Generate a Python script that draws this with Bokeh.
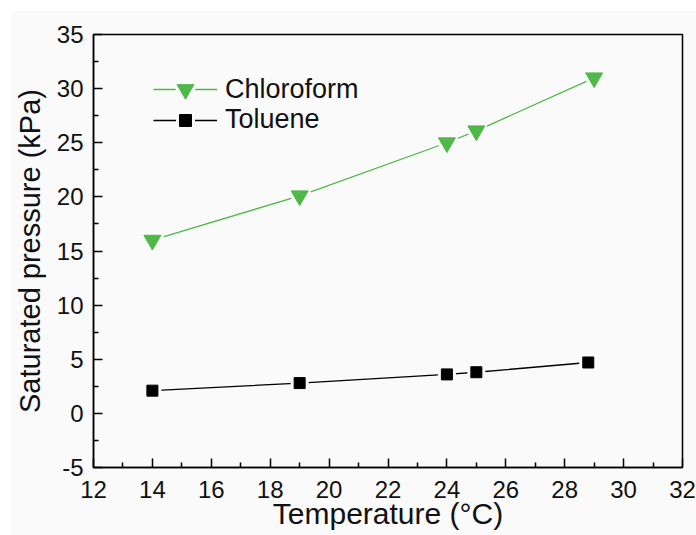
from bokeh.plotting import figure
from bokeh.models import Legend, LegendItem, Range1d, FixedTicker
from bokeh.embed import file_html
from bokeh.resources import INLINE

# ---- data ----
temp_chloroform = [14, 19, 24, 25, 29]
pres_chloroform = [16.0, 20.1, 25.0, 26.1, 31.0]
temp_toluene = [14, 19, 24, 25, 28.8]
pres_toluene = [2.1, 2.8, 3.6, 3.8, 4.7]
x_ticks = [12, 14, 16, 18, 20, 22, 24, 26, 28, 30, 32]
y_ticks = [-5, 0, 5, 10, 15, 20, 25, 30, 35]
x_title = "Temperature (°C)"
y_title = "Saturated pressure (kPa)"

BG = "#fafafa"
GREEN = "#4fb847"
INK = "#111111"
FONT = "Liberation Sans"

p = figure(width=686, height=525, x_range=Range1d(12, 32), y_range=Range1d(-5, 35),
           output_backend="svg", toolbar_location=None, margin=(10, 0, 0, 10),
           min_border_left=83, min_border_right=14, min_border_top=24, min_border_bottom=68,
           background_fill_color=BG, border_fill_color=BG)
p.grid.visible = False
p.outline_line_color = "black"
p.outline_line_width = 1.5

p.xaxis.ticker = FixedTicker(ticks=x_ticks, minor_ticks=[t + 1 for t in x_ticks[:-1]])
p.yaxis.ticker = FixedTicker(ticks=y_ticks, minor_ticks=[t + 2.5 for t in y_ticks[:-1]])
p.yaxis.major_label_overrides = {t: str(t) for t in y_ticks}

for ax in (p.xaxis[0], p.yaxis[0]):
    ax.axis_line_color = "black"
    ax.axis_line_width = 1.5
    ax.major_tick_in = 9
    ax.major_tick_out = 0
    ax.minor_tick_in = 5
    ax.minor_tick_out = 0
    ax.major_tick_line_width = 1.5
    ax.minor_tick_line_width = 1.5
    ax.major_tick_line_color = "black"
    ax.minor_tick_line_color = "black"
    ax.major_label_text_font = FONT
    ax.major_label_text_font_size = "24px"
    ax.major_label_text_color = INK
    ax.axis_label_text_font = FONT
    ax.axis_label_text_font_style = "normal"
    ax.axis_label_text_color = INK

p.xaxis.axis_label = x_title
p.yaxis.axis_label = y_title
p.xaxis.axis_label_text_font_size = "30px"
p.yaxis.axis_label_text_font_size = "29px"
p.xaxis.major_label_standoff = 13
p.xaxis.axis_label_standoff = -4
p.yaxis.major_label_standoff = 10
p.yaxis.axis_label_standoff = 8

# Chloroform
l1 = p.line(temp_chloroform, pres_chloroform, line_color=GREEN, line_width=1.3)
h1 = p.scatter(temp_chloroform, pres_chloroform, marker="inverted_triangle", size=17,
               fill_color=BG, line_color=BG, line_width=7)
m1 = p.scatter(temp_chloroform, pres_chloroform, marker="inverted_triangle", size=17,
               fill_color=GREEN, line_color=GREEN, line_width=1)

# Toluene
l2 = p.line(temp_toluene, pres_toluene, line_color="black", line_width=1.3)
h2 = p.scatter(temp_toluene, pres_toluene, marker="square", size=11,
               fill_color=BG, line_color=BG, line_width=7)
m2 = p.scatter(temp_toluene, pres_toluene, marker="square", size=11,
               fill_color="black", line_color="black", line_width=1)

common = dict(padding=0, margin=0, spacing=0, glyph_width=64, label_standoff=8,
              label_text_font=FONT, label_text_font_size="27px", label_text_color=INK,
              border_line_alpha=0, background_fill_alpha=0)
legend1 = Legend(items=[LegendItem(label="Chloroform", renderers=[l1, h1, m1])],
                 location=(60, 357), glyph_height=42, label_height=42, **common)
legend2 = Legend(items=[LegendItem(label="Toluene", renderers=[l2, h2, m2])],
                 location=(60, 332), glyph_height=30, label_height=30, **common)
p.add_layout(legend1)
p.add_layout(legend2)

open("out.html", "w").write(file_html(p, INLINE))
